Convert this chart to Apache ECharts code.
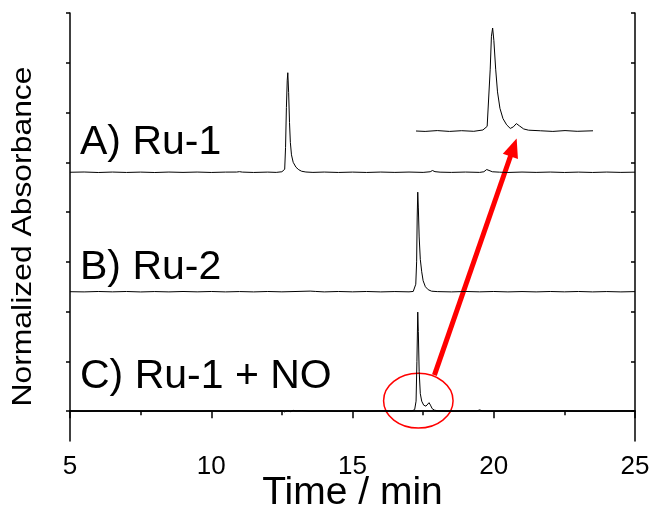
<!DOCTYPE html>
<html><head><meta charset="utf-8">
<script src="https://cdn.jsdelivr.net/npm/echarts@6/dist/echarts.min.js"></script>
<style>html,body{margin:0;padding:0;background:#fff}#c{width:652px;height:512px}</style>
</head><body><div id="c"></div>
<script>
// ---- data ----
const xRange = [5, 25];
const xInterval = 5;
const xMinorInterval = 2.5;
const yRange = [-0.6, 8];
const yTickValues = [0, 1, 2, 3, 4, 5, 6, 7, 8];
const traceLabels = ['A) Ru-1', 'B) Ru-2', 'C) Ru-1 + NO'];
const traceOffsets = [4.8, 2.4, 0];

const traceA = [[5,0],[5.5,0.005],[6,-0.005],[6.5,0.004],[7,-0.004],[7.5,0.003],[8,-0.005],[8.5,0.004],[9,-0.003],[9.5,0.004],[10,-0.004],[10.5,0.003],[10.9,0.004],[11.0,0.012],[11.1,0.003],[11.5,-0.004],[12,0.003],[12.3,-0.003],[12.5,0.01],[12.56,0.025],[12.6,0.06],[12.63,0.5],[12.66,1.3],[12.69,1.85],[12.71,2.0],[12.74,1.6],[12.77,1.0],[12.8,0.6],[12.84,0.35],[12.9,0.2],[13.0,0.1],[13.1,0.05],[13.2,0.02],[13.35,0.005],[13.6,-0.003],[14,0.004],[14.5,-0.004],[15,0.003],[15.5,-0.004],[16,0.004],[16.5,-0.003],[17,0.004],[17.5,-0.003],[17.75,0.01],[17.83,0.035],[17.92,0.012],[18.1,0.002],[18.5,-0.003],[19,0.004],[19.5,-0.003],[19.65,0.01],[19.75,0.055],[19.82,0.03],[19.95,0.01],[20.2,0.002],[20.5,-0.004],[21,0.004],[21.5,-0.003],[22,0.004],[22.5,-0.004],[23,0.003],[23.5,-0.004],[24,0.004],[24.5,-0.003],[25,0.002]];

const traceB = [[5,0],[5.5,-0.004],[6,0.004],[6.5,-0.003],[7,0.004],[7.5,-0.005],[8,0.003],[8.5,-0.004],[9,0.004],[9.5,-0.003],[10,0.004],[10.5,-0.004],[11,0.003],[11.5,-0.004],[12,0.004],[12.5,-0.003],[13,0.004],[13.5,0.012],[13.7,0.005],[14,-0.004],[14.5,0.004],[15,-0.003],[15.5,0.004],[16,-0.004],[16.5,0.003],[17,-0.003],[17.15,0.005],[17.2,0.03],[17.24,0.15],[17.27,0.6],[17.29,1.5],[17.31,2.0],[17.33,1.7],[17.36,1.1],[17.4,0.65],[17.45,0.4],[17.5,0.22],[17.58,0.1],[17.68,0.04],[17.8,0.01],[18,0.002],[18.5,-0.004],[19,0.004],[19.5,-0.003],[20,0.004],[20.5,-0.004],[21,0.003],[21.5,-0.004],[22,0.004],[22.5,-0.003],[23,0.004],[23.5,-0.004],[24,0.003],[24.5,-0.004],[25,0.002]];

const traceC = [[5,0.005],[5.5,-0.004],[6,0.006],[6.5,-0.005],[7,0.004],[7.5,-0.006],[8,0.005],[8.5,-0.004],[9,0.006],[9.5,-0.005],[10,0.004],[10.5,-0.005],[11,0.006],[11.5,-0.004],[12,0.005],[12.3,-0.006],[12.5,0.008],[12.6,-0.015],[12.7,0.012],[12.8,-0.01],[12.9,0.015],[13.0,0.005],[13.2,0.012],[13.5,-0.004],[14,0.005],[14.5,-0.005],[15,0.004],[15.5,-0.005],[16,0.005],[16.5,-0.004],[17,0.004],[17.1,0.005],[17.2,0.03],[17.25,0.2],[17.28,1.0],[17.31,1.99],[17.33,1.6],[17.36,0.8],[17.4,0.35],[17.45,0.2],[17.52,0.12],[17.6,0.1],[17.66,0.14],[17.71,0.17],[17.76,0.12],[17.82,0.05],[17.9,0.02],[18.05,0.005],[18.5,-0.004],[19,0.005],[19.4,0.004],[19.5,0.025],[19.6,0.005],[20,-0.004],[20.5,0.005],[21,-0.005],[21.5,0.004],[22,-0.005],[22.5,0.005],[23,-0.004],[23.5,0.005],[24,-0.005],[24.5,0.004],[25,0.002]];

// inset: zoom of trace C around the 17.3 min peak
const insetRange = [16.05, 18.96];
const insetTrace = [[16.05,0],[16.2,-0.004],[16.4,0.004],[16.6,-0.004],[16.8,0.003],[17.0,-0.003],[17.15,0.01],[17.22,0.045],[17.24,0.06],[17.27,0.6],[17.29,0.92],[17.31,1.0],[17.33,0.88],[17.36,0.6],[17.39,0.38],[17.43,0.22],[17.48,0.12],[17.54,0.06],[17.6,0.025],[17.65,0.04],[17.7,0.072],[17.75,0.05],[17.82,0.02],[17.9,0.008],[18.1,0.002],[18.3,-0.004],[18.5,0.004],[18.7,-0.003],[18.96,0.002]];

// annotations (data coordinates of main plot)
const circleCenter = [17.33, 0.21];
const circleRadius = [1.23, 0.55];
const arrowFrom = [17.9, 0.725];
const arrowTo = [20.81, 5.48];

// ---- chart ----
const FONT = '"Liberation Sans", Arial, sans-serif';
const chart = echarts.init(document.getElementById('c'), null, {renderer: 'canvas'});
const shift = (arr, off) => arr.map(p => [p[0], p[1] + off]);
const axisLine = {show: true, lineStyle: {color: '#000', width: 1.5}};
const mainGrid = {left: 70, right: 17, top: 13, bottom: 71, containLabel: false, outerBoundsMode: 'none'};

const option = {
  animation: false,
  backgroundColor: '#fff',
  grid: [
    mainGrid,
    {left: 416, top: 28, width: 177, height: 103, containLabel: false, outerBoundsMode: 'none'},
    Object.assign({}, mainGrid)
  ],
  xAxis: [
    {gridIndex: 0, type: 'value', position: 'bottom', min: xRange[0], max: xRange[1], interval: xInterval,
     axisLine, axisTick: {show: true, inside: false, length: 7, lineStyle: {color: '#000', width: 1.5}},
     splitLine: {show: false},
     axisLabel: {color: '#000', fontSize: 26, fontFamily: FONT, margin: 13}},
    {gridIndex: 0, type: 'value', position: 'top', min: xRange[0], max: xRange[1], interval: xInterval,
     axisLine, axisTick: {show: true, inside: true, length: 7, lineStyle: {color: '#000', width: 1.5}},
     minorTick: {show: true, splitNumber: 2, length: 4, lineStyle: {color: '#000', width: 1.5}},
     splitLine: {show: false}, axisLabel: {show: false}},
    {gridIndex: 1, type: 'value', min: insetRange[0], max: insetRange[1], show: false},
    // minor outward ticks of the bottom axis
    {gridIndex: 2, type: 'value', position: 'bottom', min: xRange[0], max: xRange[1], interval: xMinorInterval,
     axisLine: {show: false}, axisTick: {show: true, inside: false, length: 4, lineStyle: {color: '#000', width: 1.5}},
     splitLine: {show: false}, axisLabel: {show: false}}
  ],
  yAxis: [
    {gridIndex: 0, type: 'value', position: 'left', min: yRange[0], max: yRange[1],
     axisLine, axisTick: {show: true, inside: false, length: 4, customValues: yTickValues, lineStyle: {color: '#000', width: 1.5}},
     splitLine: {show: false}, axisLabel: {show: false}},
    {gridIndex: 0, type: 'value', position: 'right', min: yRange[0], max: yRange[1],
     axisLine, axisTick: {show: true, inside: true, length: 4, customValues: yTickValues, lineStyle: {color: '#000', width: 1.5}},
     splitLine: {show: false}, axisLabel: {show: false}},
    {gridIndex: 1, type: 'value', min: 0, max: 1, show: false},
    {gridIndex: 2, type: 'value', min: yRange[0], max: yRange[1], show: false}
  ],
  series: [
    {type: 'line', xAxisIndex: 0, yAxisIndex: 0, data: shift(traceA, traceOffsets[0])},
    {type: 'line', xAxisIndex: 0, yAxisIndex: 0, data: shift(traceB, traceOffsets[1])},
    {type: 'line', xAxisIndex: 0, yAxisIndex: 0, data: shift(traceC, traceOffsets[2])},
    {type: 'line', xAxisIndex: 2, yAxisIndex: 2, data: insetTrace}
  ].map(s => Object.assign(s, {showSymbol: false, symbol: 'none', clip: false, silent: true,
      lineStyle: {color: '#000', width: 1}}))
};
chart.setOption(option);

// ---- annotations & texts ----
const px = p => chart.convertToPixel({gridIndex: 0}, p);
const c0 = px(circleCenter);
const cR = px([circleCenter[0] + circleRadius[0], circleCenter[1] + circleRadius[1]]);
const a0 = px(arrowFrom), a1 = px(arrowTo);
const dx = a1[0] - a0[0], dy = a1[1] - a0[1], L = Math.hypot(dx, dy);
const ux = dx / L, uy = dy / L;
const headLen = 19, headHalf = 8;
const hb = [a1[0] - ux * headLen, a1[1] - uy * headLen];

const labelStyle = {fill: '#000', fontSize: 41, fontFamily: FONT, align: 'left', verticalAlign: 'middle'};
chart.setOption({
  graphic: [
    {type: 'ellipse', shape: {cx: c0[0], cy: c0[1], rx: Math.abs(cR[0] - c0[0]), ry: Math.abs(c0[1] - cR[1])},
     style: {fill: 'none', stroke: '#ff0000', lineWidth: 1.5}, silent: true},
    {type: 'line', shape: {x1: a0[0], y1: a0[1], x2: hb[0] + ux * 2, y2: hb[1] + uy * 2},
     style: {stroke: '#ff0000', lineWidth: 5}, silent: true},
    {type: 'polygon', shape: {points: [a1, [hb[0] - uy * headHalf, hb[1] + ux * headHalf], [hb[0] + uy * headHalf, hb[1] - ux * headHalf]]},
     style: {fill: '#ff0000'}, silent: true},
    {type: 'text', x: 80, y: 142.5, style: Object.assign({text: traceLabels[0]}, labelStyle), silent: true},
    {type: 'text', x: 80, y: 267.5, style: Object.assign({text: traceLabels[1]}, labelStyle), silent: true},
    {type: 'text', x: 80, y: 377, style: Object.assign({text: traceLabels[2]}, labelStyle), silent: true},
    {type: 'text', x: 352.5, y: 493, style: {text: 'Time / min', fill: '#000', fontSize: 39, fontFamily: FONT, align: 'center', verticalAlign: 'middle'}, silent: true},
    {type: 'text', x: 23.5, y: 236.5, rotation: Math.PI / 2, scaleX: 1.18,
     style: {text: 'Normalized Absorbance', fill: '#000', fontSize: 27, fontFamily: FONT, align: 'center', verticalAlign: 'middle'}, silent: true}
  ]
});
</script></body></html>
